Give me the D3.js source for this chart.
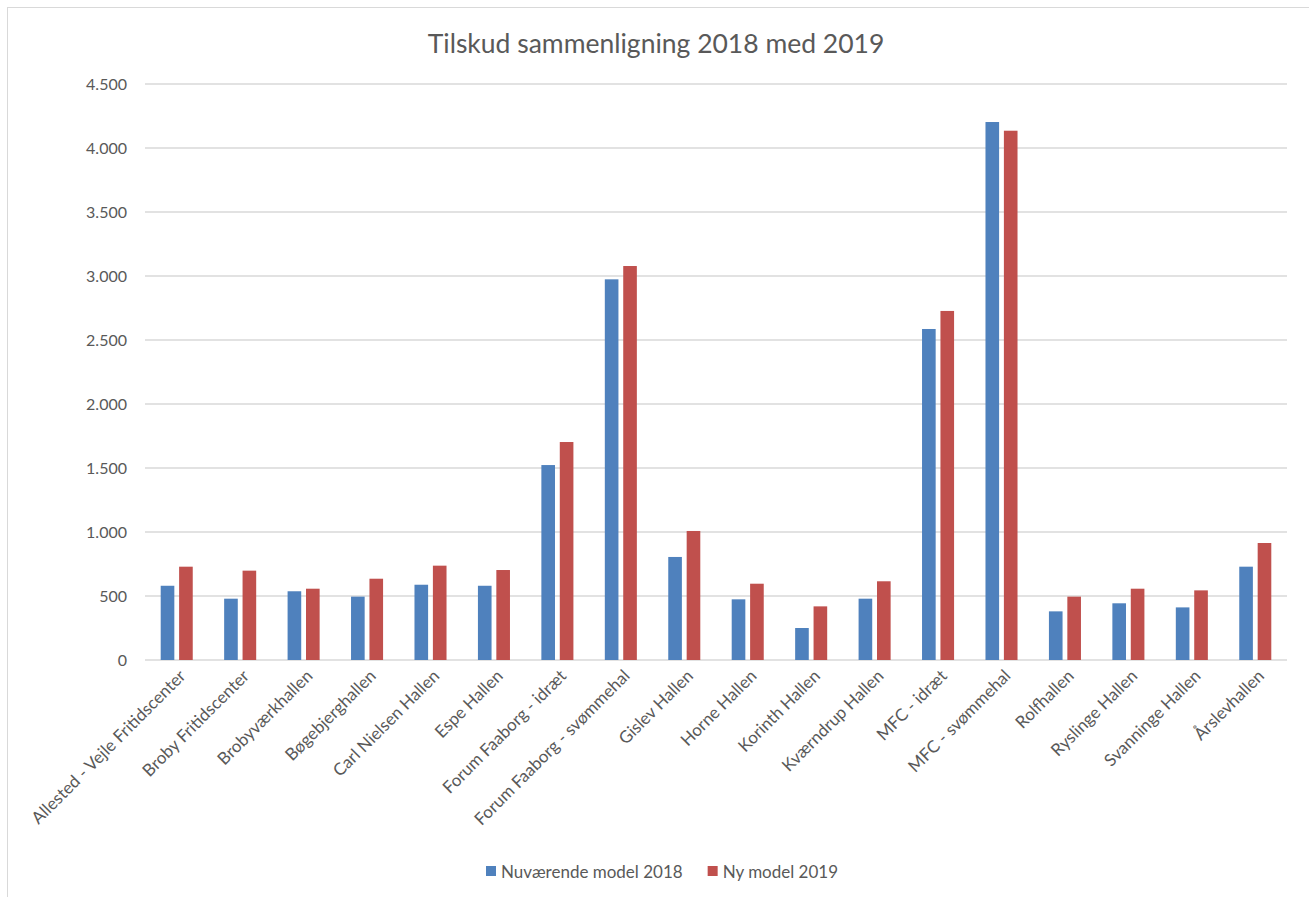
<!DOCTYPE html>
<html>
<head>
<meta charset="utf-8">
<script src="https://cdn.jsdelivr.net/npm/d3@7"></script>
<style>
  body { margin: 0; background: #fff; }
  text { font-family: Lato, "Open Sans", sans-serif; fill: #595959; }
</style>
</head>
<body>
<svg></svg>
<script>
let width = 1309;
let height = 897;

// data
let categories = [
  'Allested - Vejle Fritidscenter', 'Broby Fritidscenter', 'Brobyværkhallen',
  'Bøgebjerghallen', 'Carl Nielsen Hallen', 'Espe Hallen',
  'Forum Faaborg - idræt', 'Forum Faaborg - svømmehal', 'Gislev Hallen',
  'Horne Hallen', 'Korinth Hallen', 'Kværndrup Hallen',
  'MFC - idræt', 'MFC - svømmehal', 'Rolfhallen',
  'Ryslinge Hallen', 'Svanninge Hallen', 'Årslevhallen'
];
let model2018 = [580, 479, 537, 495, 588, 580, 1523, 2974, 805, 474, 250, 479, 2586, 4203, 380, 443, 411, 729];
let model2019 = [729, 698, 557, 635, 737, 703, 1703, 3078, 1008, 596, 419, 615, 2727, 4135, 495, 557, 544, 914];
let seriesNames = ['Nuværende model 2018', 'Ny model 2019'];
let seriesColors = ['#4f81bd', '#c0504d'];
let yTicks = [0, 500, 1000, 1500, 2000, 2500, 3000, 3500, 4000, 4500];

let margin = {top: 84, right: 22, bottom: 237, left: 145};

let rows = categories.map((c, i) => ({name: c, values: [model2018[i], model2019[i]]}));

let dk = d3.formatLocale({decimal: ',', thousands: '.', grouping: [3], currency: ['', ' kr']});
let fmt = dk.format(',');

let svg = d3.select('svg')
  .attr('width', width)
  .attr('height', height);

// chart frame (only left/top edge visible in the reference)
svg.append('rect')
  .attr('x', 7.5)
  .attr('y', 7.5)
  .attr('width', width + 10)
  .attr('height', height + 10)
  .attr('fill', 'none')
  .attr('stroke', '#d9d9d9');

let x0 = d3.scaleBand()
  .domain(categories)
  .range([margin.left, width - margin.right])
  .paddingInner(0.495)
  .paddingOuter(0.2475);

let x1 = d3.scaleBand()
  .domain([0, 1])
  .range([0, x0.bandwidth()])
  .paddingInner(0.26);

let y = d3.scaleLinear()
  .domain([0, 4500])
  .range([height - margin.bottom, margin.top]);

// gridlines
svg.append('g')
  .selectAll('line')
  .data(yTicks)
  .enter()
  .append('line')
    .attr('x1', margin.left)
    .attr('x2', width - margin.right)
    .attr('y1', d => y(d))
    .attr('y2', d => y(d))
    .attr('stroke', '#d9d9d9')
    .attr('stroke-width', 1.4);

// y axis labels
let yAxis = d3.axisLeft(y)
  .tickValues(yTicks)
  .tickFormat(fmt)
  .tickSize(0)
  .tickPadding(18);

svg.append('g')
  .attr('transform', `translate(${margin.left}, 0)`)
  .call(yAxis)
  .call(g => g.select('.domain').remove())
  .selectAll('text')
    .style('font-size', '16px')
    .attr('fill', '#595959');

// bars
let groups = svg.append('g')
  .selectAll('g')
  .data(rows)
  .enter()
  .append('g')
    .attr('transform', d => `translate(${x0(d.name)}, 0)`);

groups.selectAll('rect')
  .data(d => d.values)
  .enter()
  .append('rect')
    .attr('x', (d, i) => x1(i))
    .attr('width', x1.bandwidth())
    .attr('y', d => y(d))
    .attr('height', d => y(0) - y(d))
    .attr('fill', (d, i) => seriesColors[i]);

// x axis labels, rotated
let xAxis = d3.axisBottom(x0)
  .tickSize(0)
  .tickPadding(0);

svg.append('g')
  .attr('transform', `translate(0, ${y(0)})`)
  .call(xAxis)
  .call(g => g.select('.domain').remove())
  .selectAll('text')
    .style('font-size', '17px')
    .attr('fill', '#595959')
    .attr('text-anchor', 'end')
    .attr('dy', 0)
    .attr('y', 0)
    .attr('transform', 'translate(10, 17) rotate(-45)');

// title
svg.append('text')
  .attr('x', 656)
  .attr('y', 53)
  .attr('text-anchor', 'middle')
  .style('font-size', '26.5px')
  .text('Tilskud sammenligning 2018 med 2019');

// legend
let legend = svg.append('g')
  .attr('transform', 'translate(0, 878)');

let lx = 486;
seriesNames.forEach((name, i) => {
  legend.append('rect')
    .attr('x', lx)
    .attr('y', -12)
    .attr('width', 10)
    .attr('height', 10)
    .attr('fill', seriesColors[i]);
  let t = legend.append('text')
    .attr('x', lx + 15)
    .attr('y', 0)
    .style('font-size', '17px')
    .text(name);
  lx += 15 + t.node().getComputedTextLength() + 25;
});
</script>
</body>
</html>
